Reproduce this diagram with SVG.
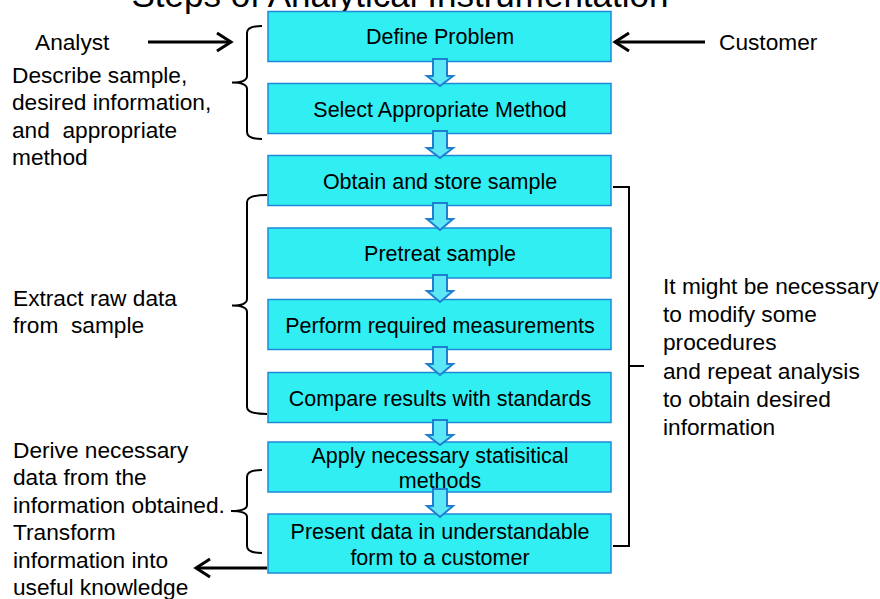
<svg xmlns="http://www.w3.org/2000/svg" width="880" height="599" viewBox="0 0 880 599">
<style>
  .box { fill: #31EEF3; stroke: #1E8AD6; stroke-width: 1.5; }
  .bt { font-family: "Liberation Sans", Arial, sans-serif; font-size: 21.5px; fill: #000; text-anchor: middle; }
  .st { font-family: "Liberation Sans", Arial, sans-serif; font-size: 22.7px; fill: #000; }
  .flow { fill: #5CE8F6; stroke: #1E7FD0; stroke-width: 2; stroke-linejoin: miter; }
  .brace { fill: none; stroke: #000; stroke-width: 2; }
  .blk { fill: none; stroke: #000; stroke-width: 3; }
</style>
<rect width="880" height="599" fill="#fff"/>
<text x="400" y="7" font-family="Liberation Sans, Arial, sans-serif" font-size="35" text-anchor="middle" fill="#000">Steps of Analytical Instrumentation</text>

<g id="n1"><rect class="box" x="268" y="11.5" width="343" height="50"/><text class="bt" x="440" y="44">Define Problem</text></g>
<g id="n2"><rect class="box" x="268" y="83.5" width="343" height="50"/><text class="bt" x="440" y="116.5">Select Appropriate Method</text></g>
<g id="n3"><rect class="box" x="268" y="155.5" width="343" height="50"/><text class="bt" x="440" y="188.5">Obtain and store sample</text></g>
<g id="n4"><rect class="box" x="268" y="228" width="343" height="50"/><text class="bt" x="440" y="261">Pretreat sample</text></g>
<g id="n5"><rect class="box" x="268" y="299.5" width="343" height="50"/><text class="bt" x="440" y="332.5">Perform required measurements</text></g>
<g id="n6"><rect class="box" x="268" y="372.5" width="343" height="50"/><text class="bt" x="440" y="405.5">Compare results with standards</text></g>
<g id="n7"><rect class="box" x="268" y="442" width="343" height="50"/><text class="bt" x="440" y="462.5">Apply necessary statisitical</text><text class="bt" x="440" y="488">methods</text></g>
<g id="n8"><rect class="box" x="268" y="514" width="343" height="59"/><text class="bt" x="440" y="538.5">Present data in understandable</text><text class="bt" x="440" y="564.5">form to a customer</text></g>

<g id="connectors">
  <path class="flow" d="M433,59 H447 V76 H453 L440,86 L427,76 H433 Z"/>
  <path class="flow" d="M433,131 H447 V148 H453 L440,158 L427,148 H433 Z"/>
  <path class="flow" d="M433,203 H447 V219 H453 L440,230 L427,219 H433 Z"/>
  <path class="flow" d="M433,275 H447 V291 H453 L440,302 L427,291 H433 Z"/>
  <path class="flow" d="M433,347 H447 V364 H453 L440,375 L427,364 H433 Z"/>
  <path class="flow" d="M433,420 H447 V435 H453 L440,445 L427,435 H433 Z"/>
  <path class="flow" d="M433,489 H447 V506 H453 L440,517 L427,506 H433 Z"/>

  <path class="blk" d="M148,42 H230"/>
  <path class="blk" d="M217,33 L231,42 L217,51"/>
  <path class="blk" d="M705,42 H616"/>
  <path class="blk" d="M629,33 L615,42 L629,51"/>
  <path class="blk" d="M267,568 H197"/>
  <path class="blk" d="M210,559 L196,568 L210,577"/>

  <path class="brace" d="M262,26 Q247,26 247,33 V76 Q247,82.5 232,82.5 Q247,82.5 247,89 V132 Q247,139 262,139"/>
  <path class="brace" d="M267,195 Q247,195 247,202 V299 Q247,305.5 232,305.5 Q247,305.5 247,312 V407 Q247,414 267,414"/>
  <path class="brace" d="M262,470 Q247,470 247,477 V505 Q247,511 231,511 Q247,511 247,517 V546 Q247,553 262,553"/>
  <path class="brace" d="M613,187 H629 V546 H613 M629,366 H644"/>
</g>

<g id="labels">
  <text class="st" x="35" y="50">Analyst</text>
  <text class="st" x="719" y="50">Customer</text>
  <text class="st" x="12" y="83">Describe sample,</text>
  <text class="st" x="12" y="110.4">desired information,</text>
  <text class="st" x="12" y="137.8" xml:space="preserve">and  appropriate</text>
  <text class="st" x="12" y="165.2">method</text>
  <text class="st" x="13" y="306" xml:space="preserve">Extract raw data</text>
  <text class="st" x="13" y="333" xml:space="preserve">from  sample</text>
  <text class="st" x="13" y="458">Derive necessary</text>
  <text class="st" x="13" y="485.4">data from the</text>
  <text class="st" x="13" y="512.8">information obtained.</text>
  <text class="st" x="13" y="540.2">Transform</text>
  <text class="st" x="13" y="567.6">information into</text>
  <text class="st" x="13" y="595">useful knowledge</text>
  <text class="st" x="663" y="294">It might be necessary</text>
  <text class="st" x="663" y="322.2">to modify some</text>
  <text class="st" x="663" y="350.4">procedures</text>
  <text class="st" x="663" y="378.6">and repeat analysis</text>
  <text class="st" x="663" y="406.8">to obtain desired</text>
  <text class="st" x="663" y="435">information</text>
</g>
</svg>
